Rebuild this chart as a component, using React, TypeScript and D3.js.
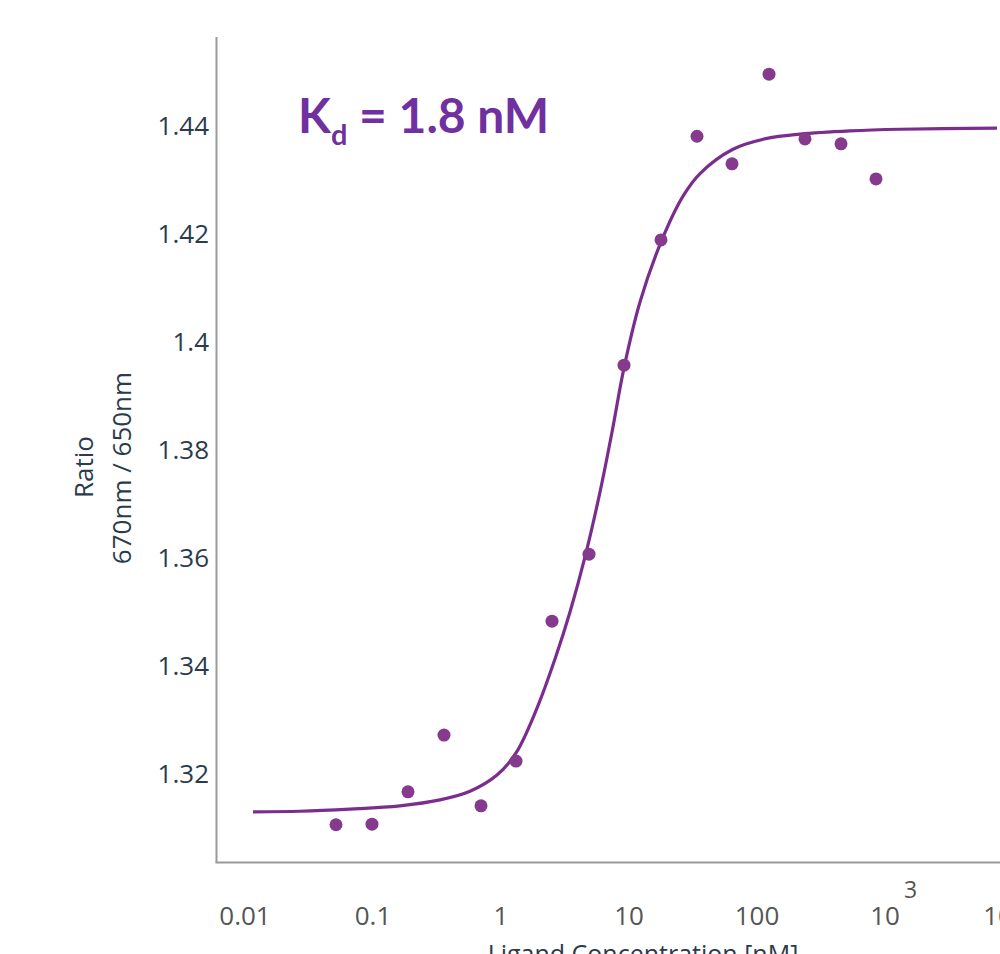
import React from "react";
import * as d3 from "d3";

// Measured data points (ligand concentration in nM, ratio 670nm/650nm)
const concentrations = [0.0514, 0.0982, 0.1877, 0.3586, 0.6978, 1.31, 2.503, 4.87, 9.141, 17.78, 33.98, 63.79, 124.1, 237.1, 453.2, 850.6];
const ratios = [1.3106, 1.3107, 1.3167, 1.3272, 1.3141, 1.3224, 1.3483, 1.3607, 1.3957, 1.4189, 1.4381, 1.433, 1.4496, 1.4376, 1.4367, 1.4302];

// Fitted binding curve
const curveConc = [0.01155, 0.0269, 0.0661, 0.1625, 0.3338, 0.5727, 0.9306, 1.31, 1.911, 2.642, 3.46, 4.532, 5.934, 7.366, 9.141, 12.19, 17.78, 26.42, 35.87, 64.94, 119.7, 216.8, 532.9, 1310, 7499];
const curveRatio = [1.313, 1.3131, 1.3135, 1.3141, 1.3152, 1.3168, 1.3198, 1.3239, 1.3322, 1.3413, 1.35, 1.3602, 1.3722, 1.3833, 1.3952, 1.4074, 1.4185, 1.427, 1.4312, 1.4357, 1.4377, 1.4385, 1.4391, 1.4394, 1.4396];

const yTicks = [1.32, 1.34, 1.36, 1.38, 1.4, 1.42, 1.44];
const xTicks = [0.01, 0.1, 1, 10, 100, 1000, 10000];
const xTickLabels = [
  { base: "0.01", exp: "" },
  { base: "0.1", exp: "" },
  { base: "1", exp: "" },
  { base: "10", exp: "" },
  { base: "100", exp: "" },
  { base: "10", exp: "3" },
  { base: "10", exp: "4" },
];

const kdLabel = { main: "K", sub: "d", rest: " = 1.8 nM" };
const yTitle = ["Ratio", "670nm / 650nm"];
const xTitle = "Ligand Concentration [nM]";

const W = 1000;
const H = 954;

export default function App() {
  const x = d3.scaleLog().domain([0.01, 10000]).range([245, 1013]);
  const y = d3.scaleLinear().domain([1.3, 1.45]).range([882, 72]);

  const axisLeft = 216.5;
  const axisBottom = 862.5;
  const axisTop = 37;

  const curvePts: [number, number][] = curveConc.map((c, i) => [c, curveRatio[i]]);
  const line = d3
    .line<[number, number]>()
    .x((d) => x(d[0]))
    .y((d) => y(d[1]))
    .curve(d3.curveCatmullRom.alpha(0.5));

  const font = "'Open Sans', 'Noto Sans', sans-serif";
  const navy = "#2a3b4d";
  const gray = "#555555";
  const purpleDot = "#853a8d";
  const purpleLine = "#7b2d8e";

  // keep the last (partly cut) label near the right edge, as in the original
  const labelX = (t: number) => Math.min(x(t), W - 2);

  return (
    <div style={{ position: "absolute", left: 0, top: 0, width: W, height: H, background: "#fff" }}>
      <svg width={W} height={H} viewBox={`0 0 ${W} ${H}`} style={{ display: "block" }}>
        <rect x={0} y={0} width={W} height={H} fill="#fff" />
        {/* axes */}
        <line x1={axisLeft} x2={axisLeft} y1={axisTop} y2={axisBottom} stroke="#9a9a9a" strokeWidth={2} />
        <line x1={axisLeft - 1} x2={W} y1={axisBottom} y2={axisBottom} stroke="#9a9a9a" strokeWidth={2} />

        {/* y tick labels */}
        {yTicks.map((t) => (
          <text
            key={t}
            x={209}
            y={y(t)}
            dy="0.35em"
            textAnchor="end"
            fontFamily={font}
            fontSize={26}
            fill={navy}
          >
            {String(+t.toFixed(2))}
          </text>
        ))}

        {/* x tick labels */}
        {xTicks.map((t, i) => (
          <g key={t}>
            <text
              x={labelX(t)}
              y={925}
              textAnchor="middle"
              fontFamily={font}
              fontSize={26}
              fill={gray}
            >
              {xTickLabels[i].base}
            </text>
            {xTickLabels[i].exp && (
              <text x={labelX(t) + 19} y={898} fontFamily={font} fontSize={23} fill={gray}>
                {xTickLabels[i].exp}
              </text>
            )}
          </g>
        ))}

        {/* axis titles */}
        <text
          transform={`translate(93,467) rotate(-90)`}
          textAnchor="middle"
          fontFamily={font}
          fontSize={26}
          fill={navy}
        >
          {yTitle[0]}
        </text>
        <text
          transform={`translate(131,468) rotate(-90)`}
          textAnchor="middle"
          fontFamily={font}
          fontSize={26}
          fill={navy}
        >
          {yTitle[1]}
        </text>
        <text x={643} y={963} textAnchor="middle" fontFamily={font} fontSize={25} fill={navy}>
          {xTitle}
        </text>

        {/* fitted curve */}
        <path d={line(curvePts) || ""} fill="none" stroke={purpleLine} strokeWidth={3.2} />

        {/* data points */}
        {concentrations.map((c, i) => (
          <circle key={i} cx={x(c)} cy={y(ratios[i])} r={6.5} fill={purpleDot} />
        ))}

        {/* Kd annotation */}
        <text x={298} y={133} fontFamily="Lato, 'Open Sans', sans-serif" fontWeight={700} fontSize={48} fill="#7030a0">
          {kdLabel.main}
          <tspan fontSize={29} dy={12}>
            {kdLabel.sub}
          </tspan>
          <tspan dy={-12}>{kdLabel.rest}</tspan>
        </text>
      </svg>
    </div>
  );
}
